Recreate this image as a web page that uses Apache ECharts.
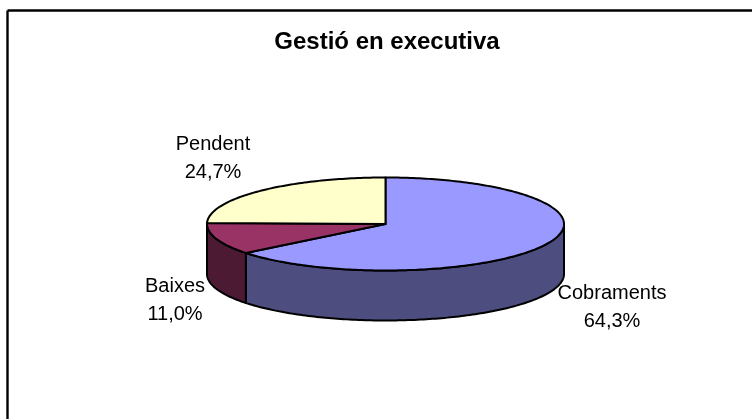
<!DOCTYPE html>
<html>
<head>
<meta charset="utf-8">
<title>Gestió en executiva</title>
<style>
  html, body { margin: 0; padding: 0; background: #fff; }
  #main { width: 752px; height: 419px; }
</style>
</head>
<body>
<div id="main"></div>
<script src="https://cdn.jsdelivr.net/npm/echarts@6/dist/echarts.min.js"></script>
<script>
// chart data
const categories = ["Cobraments", "Baixes", "Pendent"];
const shares = [64.3, 11.0, 24.7];
const percentLabels = ["64,3%", "11,0%", "24,7%"];

const topColors = ["#9999FF", "#993366", "#FFFFCC"];
const sideColors = ["#4D4D80", "#4D1A33", "#80806A"];

// ellipse of the top face and height of the wall
const pie = { cx: 385.5, cy: 224, rx: 178.5, ry: 46.5, depth: 50 };
const labelCenters = [
  { x: 612, y: 307 },
  { x: 175, y: 300 },
  { x: 213, y: 158 },
];
const total = shares.reduce(function (a, b) { return a + b; }, 0);

// deg is clockwise from twelve o'clock
function rimPoint(deg, drop) {
  const rad = (deg * Math.PI) / 180;
  return [pie.cx + pie.rx * Math.sin(rad), pie.cy - pie.ry * Math.cos(rad) + drop];
}

function arcPoints(from, to, drop) {
  const pts = [];
  const steps = Math.max(2, Math.ceil(Math.abs(to - from)));
  for (let i = 0; i <= steps; i++) {
    pts.push(rimPoint(from + ((to - from) * i) / steps, drop));
  }
  return pts;
}

function renderSlice(params, api) {
  const i = params.dataIndex;
  const start = (shares.slice(0, i).reduce(function (a, b) { return a + b; }, 0) / total) * 360;
  const end = start + (api.value(1) / total) * 360;
  const children = [];
  const lineStyle = { stroke: "#000", lineWidth: 2, lineJoin: "round" };

  // wall, only the part of the rim that faces the viewer
  const wallFrom = Math.max(start, 90);
  const wallTo = Math.min(end, 270);
  if (wallTo > wallFrom) {
    const upper = arcPoints(wallFrom, wallTo, 0);
    const lower = arcPoints(wallTo, wallFrom, pie.depth);
    children.push({
      type: "polygon",
      shape: { points: upper.concat(lower) },
      style: Object.assign({ fill: sideColors[i] }, lineStyle),
    });
  }

  // top face
  children.push({
    type: "polygon",
    shape: { points: [[pie.cx, pie.cy]].concat(arcPoints(start, end, 0)) },
    style: Object.assign({ fill: topColors[i] }, lineStyle),
  });

  children.push({
    type: "text",
    z2: 10,
    style: {
      x: labelCenters[i].x,
      y: labelCenters[i].y,
      text: categories[i] + "\n" + percentLabels[i],
      align: "center",
      verticalAlign: "middle",
      fill: "#000",
      font: '20px "Liberation Sans", Arial, sans-serif',
      lineHeight: 28,
    },
  });

  return { type: "group", children: children };
}

const myChart = echarts.init(document.getElementById("main"), null, { renderer: "canvas" });

const option = {
  animation: false,
  backgroundColor: "#fff",
  title: {
    text: "Gestió en executiva",
    left: 382,
    top: 37,
    textAlign: "center",
    textVerticalAlign: "middle",
    textStyle: {
      color: "#000",
      fontFamily: '"Liberation Sans", Arial, sans-serif',
      fontSize: 24,
      fontWeight: "bold",
    },
  },
  // only the top and left edges of the frame are inside the picture
  graphic: [
    { type: "line", shape: { x1: 7.5, y1: 10.5, x2: 752, y2: 10.5 }, style: { stroke: "#000", lineWidth: 2.4 } },
    { type: "line", shape: { x1: 7.5, y1: 10.5, x2: 7.5, y2: 419 }, style: { stroke: "#000", lineWidth: 2.4 } },
  ],
  series: [
    {
      type: "custom",
      coordinateSystem: "none",
      renderItem: renderSlice,
      data: categories.map(function (name, i) {
        return { name: name, value: [i, shares[i]] };
      }),
    },
  ],
};

myChart.setOption(option);
</script>
</body>
</html>
